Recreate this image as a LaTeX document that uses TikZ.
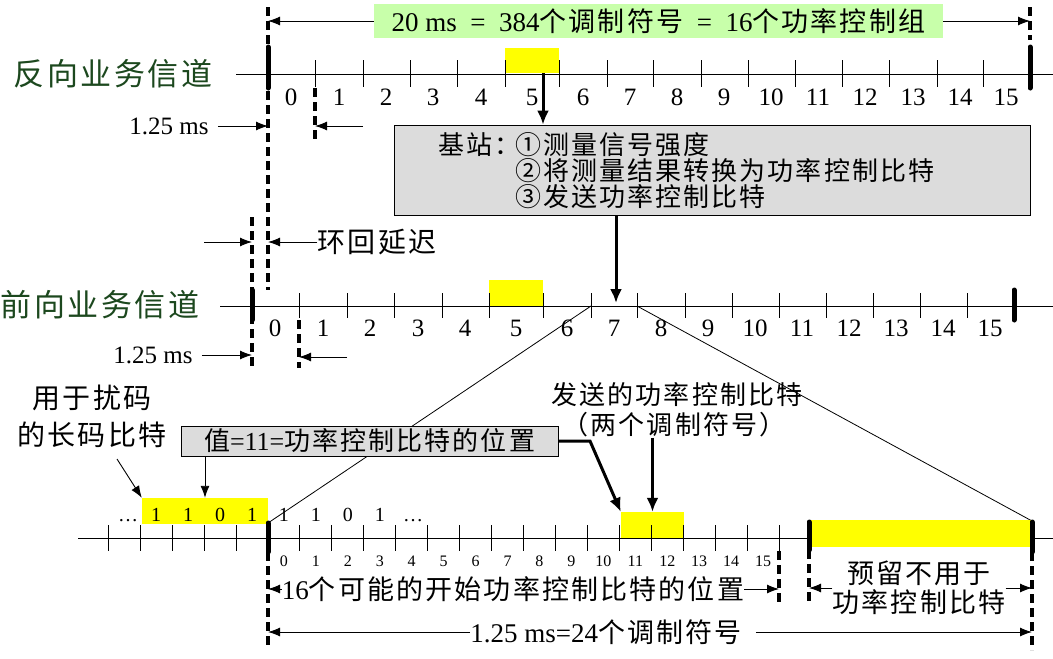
\documentclass[tikz,border=0pt]{standalone}
\usepackage{fontspec}
\setmainfont{Liberation Serif}
\newfontfamily\cjk[LetterSpace=8]{Noto Sans CJK SC}
\usetikzlibrary{arrows.meta}
\definecolor{slotyellow}{RGB}{255,255,0}
\definecolor{titlegreen}{RGB}{200,255,170}
\definecolor{boxgray}{RGB}{220,220,220}
\definecolor{chgreen}{RGB}{28,72,30}

\begin{document}
\begin{tikzpicture}[x=1pt, y=-1pt,
  axis/.style={line width=0.9pt},
  tickmark/.style={line width=0.9pt},
  framemark/.style={line width=5pt, line cap=round},
  dashline/.style={line width=3.2pt, dash pattern=on 9pt off 5pt},
  dimarrow/.style={line width=0.9pt, -{Latex[length=12pt,width=9pt]}},
  bigarrow/.style={line width=3pt, -{Latex[length=14pt,width=12pt]}},
  slotbox/.style={fill=slotyellow, inner sep=0pt},
  graybox/.style={draw, fill=boxgray, line width=0.7pt, inner sep=0pt},
  num/.style={inner sep=0pt, font=\fontsize{25}{28}\selectfont},
  txt/.style={inner sep=0pt, font=\fontsize{27}{30}\selectfont},
  zh/.style={inner sep=0pt, font=\fontsize{26}{29}\selectfont\cjk},
  chlabel/.style={inner sep=0pt, text=chgreen, font=\fontsize{31}{33}\selectfont\cjk}]

\useasboundingbox (0,0) rectangle (1053,659);

% Posiciones de las lineas de trama
\coordinate (rstart) at (268,0);
\coordinate (rend) at (1030,0);
\coordinate (r1) at (315,0);
\coordinate (fstart) at (252,0);
\coordinate (f1) at (299,0);
\coordinate (bstart) at (268,0);
\coordinate (b16) at (779,0);
\coordinate (bres) at (809,0);
\coordinate (bfin) at (1032,0);

% Canal inverso
\node[chlabel] (revlabel) at (113,74) {反向业务信道};
\node[slotbox, minimum width=54pt, minimum height=25pt] (ry5) at (532,60.5) {};
\draw[axis] (236,74) -- (1053,74);
\foreach \x in {315,363,410,457,505,559,607,653,701,748,795,842,889,937,983}
  \draw[tickmark] (\x,60) -- (\x,87);
\foreach \x [count=\n from 0] in {291,339,386,433,481,532,583,630,677,724,771,818,865,913,960,1006}
  \node[num] (rn\n) at (\x,97) {\n};
\draw[dashline] (268,7) -- (268,290);
\draw[framemark] (268,47) -- (268,88);
\draw[dashline] (1030,7) -- (1030,40);
\draw[framemark] (1030,47) -- (1030,88);
\draw[dashline] (315,88) -- (315,140);

\node[fill=titlegreen, minimum width=569pt, minimum height=34pt, inner sep=0pt,
  font=\fontsize{27}{30}\selectfont] (title) at (658.5,21)
  {20 ms\enspace=\enspace384{\cjk 个调制符号}\enspace=\enspace16{\cjk 个功率控制组}};
\draw[dimarrow] (title.west) -- (title.west -| rstart);
\draw[dimarrow] (title.east) -- (title.east -| rend);

\node[num] (rdur) at (169,126) {1.25 ms};
\coordinate (rdur2) at (363,126);
\draw[dimarrow] ([xshift=9pt]rdur.east) -- (rdur.east -| rstart);
\draw[dimarrow] (rdur2) -- (rdur2 -| r1);

% Estacion base
\node[graybox, minimum width=636pt, minimum height=90pt] (station) at (712,170) {};
\node[zh, anchor=west] (bs) at (438,145) {基站：};
\node[zh, anchor=west] (item1) at (515,145) {①测量信号强度};
\node[zh, anchor=west] (item2) at (515,171) {②将测量结果转换为功率控制比特};
\node[zh, anchor=west] (item3) at (515,197) {③发送功率控制比特};
\draw[bigarrow] ([xshift=11pt]ry5.south) -- ([xshift=11pt]ry5.south |- station.north);

% Retardo de ida y vuelta
\node[zh, font=\fontsize{28}{30}\selectfont\cjk] (loop) at (377,242) {环回延迟};
\coordinate (lda) at (204,242);
\draw[dimarrow] (loop.west) -- (loop.west -| rstart);
\draw[dimarrow] (lda) -- (lda -| fstart);

% Canal directo
\node[chlabel] (fwdlabel) at (100,305) {前向业务信道};
\node[slotbox, minimum width=54pt, minimum height=26pt] (fy5) at (516,293) {};
\draw[axis] (220,306) -- (1053,306);
\foreach \x in {299,347,394,442,489,543,591,637,685,732,779,826,873,920,967}
  \draw[tickmark] (\x,293) -- (\x,318);
\foreach \x [count=\n from 0] in {275,323,370,418,465,516,567,614,661,708,755,802,849,896,943,990}
  \node[num] (fn\n) at (\x,328) {\n};
\draw[dashline] (252,217) -- (252,368);
\draw[framemark] (252,290) -- (252,320);
\draw[dashline] (299,320) -- (299,368);
\draw[framemark] (1014,290) -- (1014,320);
\coordinate (f7) at (616,303);
\draw[bigarrow] (station.south -| f7) -- (f7);

\node[num] (fdur) at (153,355) {1.25 ms};
\coordinate (fdur2) at (347,357);
\draw[dimarrow] ([xshift=9pt]fdur.east) -- (fdur.east -| fstart);
\draw[dimarrow] (fdur2) -- (fdur2 -| f1);

% Grupo de control de potencia ampliado
\coordinate (f6) at (591,306);
\coordinate (f8) at (637,306);
\coordinate (btop) at (268,523);
\coordinate (etop) at (1032,521);
\draw[line width=0.8pt] (f6) -- (btop);
\draw[line width=0.8pt] (f8) -- (etop);

\node[slotbox, minimum width=63pt, minimum height=26pt] (pcb) at (652.5,525) {};
\node[slotbox, minimum width=126pt, minimum height=26pt] (lbits) at (205,511) {};
\draw[axis] (78,538) -- (1053,538);
\foreach \k in {-5,...,16}
  \draw[tickmark] ({268+31.94*\k},525) -- ({268+31.94*\k},551);
\node[slotbox, minimum width=223pt, minimum height=27pt] (resbox) at (920.5,533.5) {};
\draw[framemark] (268,523) -- (268,552);
\draw[framemark] (809,522) -- (809,550);
\draw[framemark] (1032,522) -- (1032,552);
\draw[dashline] (268,552) -- (268,648);
\draw[dashline] (779,551) -- (779,602);
\draw[dashline] (809,550) -- (809,602);
\draw[dashline] (1032,552) -- (1032,650);

\foreach \b [count=\i] in {1,1,0,1,1,1,0,1}
  \node[anchor=base, inner sep=0pt, font=\fontsize{20}{22}\selectfont] (bit\i) at ({268+31.94*(\i-4.5)},521) {\b};
\node[anchor=base, inner sep=0pt, font=\fontsize{20}{22}\selectfont] (dotsl) at (128,521) {\dots};
\node[anchor=base, inner sep=0pt, font=\fontsize{20}{22}\selectfont] (dotsr) at (413,521) {\dots};
\foreach \k in {0,...,15}
  \node[inner sep=0pt, font=\fontsize{16}{18}\selectfont] (bn\k) at ({268+31.94*(\k+0.5)},561) {\k};

% Etiquetas
\node[zh, align=center, font=\fontsize{28}{37}\selectfont\cjk] (lcb) at (92,416) {用于扰码\\的长码比特};
\coordinate (lcbfoot) at (117,459);
\draw[dimarrow] (lcbfoot) -- (lbits.north west);

\node[graybox, minimum width=377pt, minimum height=30pt, font=\fontsize{26}{28}\selectfont] (valbox) at (369.5,441)
  {{\cjk 值}=11={\cjk 功率控制比特的位置}};
\draw[dimarrow] (valbox.south -| lbits.north) -- (lbits.north);
\coordinate (bknee) at (590,441);
\draw[bigarrow] (valbox.east) -- (bknee) -- (pcb.north west);

\node[zh] (sentlbl) at (677,395) {发送的功率控制比特};
\node[zh] (twosym) at (674,425) {（两个调制符号）};
\draw[bigarrow] (twosym.south -| pcb.north) -- (pcb.north);

\node[txt] (pos16) at (513,589) {16{\cjk 个可能的开始功率控制比特的位置}};
\draw[dimarrow] (pos16.west) -- (pos16.west -| bstart);
\draw[dimarrow] (pos16.east) -- (pos16.east -| b16);

\node[zh, align=center, font=\fontsize{27}{29}\selectfont\cjk] (resv) at (919,588) {预留不用于\\功率控制比特};
\draw[dimarrow] (resv.west) -- (resv.west -| bres);
\draw[dimarrow] (resv.east) -- (resv.east -| bfin);

\node[txt] (frame125) at (606,632) {1.25 ms=24{\cjk 个调制符号}};
\draw[dimarrow] (frame125.west) -- (frame125.west -| bstart);
\draw[dimarrow] ([xshift=14pt]frame125.east) -- (frame125.east -| bfin);

\end{tikzpicture}
\end{document}
